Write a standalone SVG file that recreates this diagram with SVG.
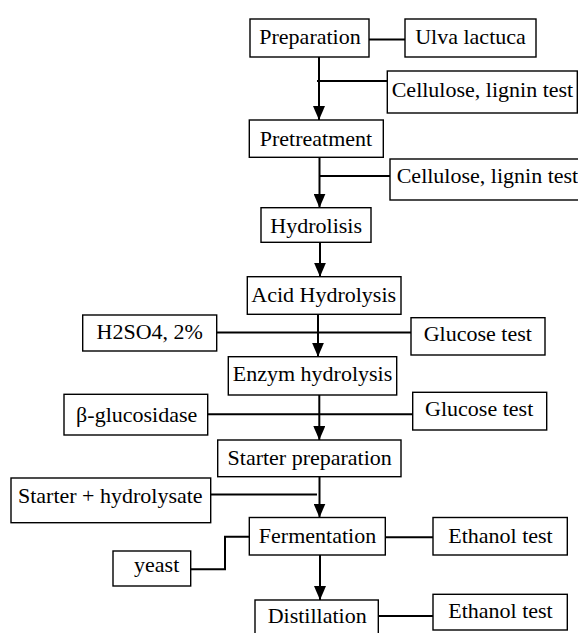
<svg xmlns="http://www.w3.org/2000/svg" width="578" height="633" viewBox="0 0 578 633">
<style>
.box{fill:#fff;stroke:#000;stroke-width:1.4}
.t{font-family:"Liberation Serif","Times New Roman",serif;font-size:22px;fill:#000}
.c{fill:none;stroke:#000;stroke-width:2}
</style>
<defs>
<marker id="arr" viewBox="0 0 14 12" refX="14" refY="6" markerWidth="14" markerHeight="12" orient="auto" markerUnits="userSpaceOnUse">
<path d="M0,0 L14,6 L0,12 z" fill="#000"/>
</marker>
</defs>
<rect width="578" height="633" fill="#fff"/>
<g id="connectors">
<line class="c" x1="319" y1="57" x2="319" y2="120" marker-end="url(#arr)"/>
<line class="c" x1="369" y1="39.5" x2="405" y2="39.5"/>
<line class="c" x1="317" y1="81" x2="387" y2="81"/>
<line class="c" x1="319.5" y1="157" x2="319.5" y2="207.7" marker-end="url(#arr)"/>
<line class="c" x1="319.5" y1="176" x2="390" y2="176"/>
<line class="c" x1="320" y1="242.3" x2="320" y2="276.7" marker-end="url(#arr)"/>
<line class="c" x1="318" y1="314.3" x2="318" y2="356.7" marker-end="url(#arr)"/>
<line class="c" x1="216.7" y1="332.5" x2="411" y2="332.5"/>
<line class="c" x1="319.3" y1="395" x2="319.3" y2="440" marker-end="url(#arr)"/>
<line class="c" x1="207.7" y1="414.3" x2="412.7" y2="414.3"/>
<line class="c" x1="319.5" y1="476.7" x2="319.5" y2="517.5" marker-end="url(#arr)"/>
<line class="c" x1="210.7" y1="494.5" x2="317" y2="494.5"/>
<polyline class="c" points="190.7,569.3 225,569.3 225,536.7 249.3,536.7"/>
<line class="c" x1="385" y1="537.3" x2="433" y2="537.3"/>
<line class="c" x1="320" y1="555" x2="320" y2="600" marker-end="url(#arr)"/>
<line class="c" x1="378.3" y1="616" x2="433" y2="616"/>
</g>
<g id="preparation"><rect class="box" x="250" y="19" width="119" height="38"/><text class="t" x="310" y="44.3" text-anchor="middle">Preparation</text></g>
<g id="ulva"><rect class="box" x="405" y="19" width="131" height="38"/><text class="t" x="470.5" y="44.3" text-anchor="middle">Ulva lactuca</text></g>
<g id="cellulose1"><rect class="box" x="387.3" y="71" width="190" height="42"/><text class="t" x="391.7" y="96.5">Cellulose, lignin test</text></g>
<g id="pretreatment"><rect class="box" x="249.3" y="120" width="134" height="37.3"/><text class="t" x="316" y="145.7" text-anchor="middle">Pretreatment</text></g>
<g id="cellulose2"><rect class="box" x="390" y="159" width="200" height="41"/><text class="t" x="396.7" y="183.3">Cellulose, lignin test</text></g>
<g id="hydrolisis"><rect class="box" x="261" y="207.7" width="110" height="34.6"/><text class="t" x="316.2" y="232.7" text-anchor="middle">Hydrolisis</text></g>
<g id="acid"><rect class="box" x="247.3" y="276.7" width="153.7" height="37.6"/><text class="t" x="323.7" y="301.7" text-anchor="middle">Acid Hydrolysis</text></g>
<g id="h2so4"><rect class="box" x="82.7" y="315" width="134" height="36"/><text class="t" x="149.7" y="339.3" text-anchor="middle">H2SO4, 2%</text></g>
<g id="glucose1"><rect class="box" x="411" y="317.7" width="134" height="37.3"/><text class="t" x="477.8" y="341" text-anchor="middle">Glucose test</text></g>
<g id="enzym"><rect class="box" x="228.3" y="356.7" width="168.4" height="38.3"/><text class="t" x="312.5" y="381" text-anchor="middle">Enzym hydrolysis</text></g>
<g id="glucosidase"><rect class="box" x="64" y="394.3" width="143.7" height="40.7"/><text class="t" x="136.7" y="422.3" text-anchor="middle">β-glucosidase</text></g>
<g id="glucose2"><rect class="box" x="412.7" y="392.3" width="134" height="37.7"/><text class="t" x="479.2" y="415.7" text-anchor="middle">Glucose test</text></g>
<g id="starter"><rect class="box" x="217.7" y="440" width="183.3" height="36.7"/><text class="t" x="309.7" y="465" text-anchor="middle">Starter preparation</text></g>
<g id="starterhyd"><rect class="box" x="11" y="478" width="199.7" height="44.7"/><text class="t" x="110.3" y="503.3" text-anchor="middle">Starter + hydrolysate</text></g>
<g id="fermentation"><rect class="box" x="249.3" y="517.5" width="136" height="37.5"/><text class="t" x="317.5" y="543.3" text-anchor="middle">Fermentation</text></g>
<g id="ethanol1"><rect class="box" x="433" y="517.5" width="134.3" height="37.5"/><text class="t" x="500.5" y="543.3" text-anchor="middle">Ethanol test</text></g>
<g id="yeast"><rect class="box" x="113" y="551" width="77.7" height="35"/><text class="t" x="156.7" y="572" text-anchor="middle">yeast</text></g>
<g id="distillation"><rect class="box" x="255" y="600" width="123.3" height="45"/><text class="t" x="317.2" y="623.3" text-anchor="middle">Distillation</text></g>
<g id="ethanol2"><rect class="box" x="433" y="594.3" width="134.3" height="35.7"/><text class="t" x="500.5" y="618.3" text-anchor="middle">Ethanol test</text></g>
</svg>
